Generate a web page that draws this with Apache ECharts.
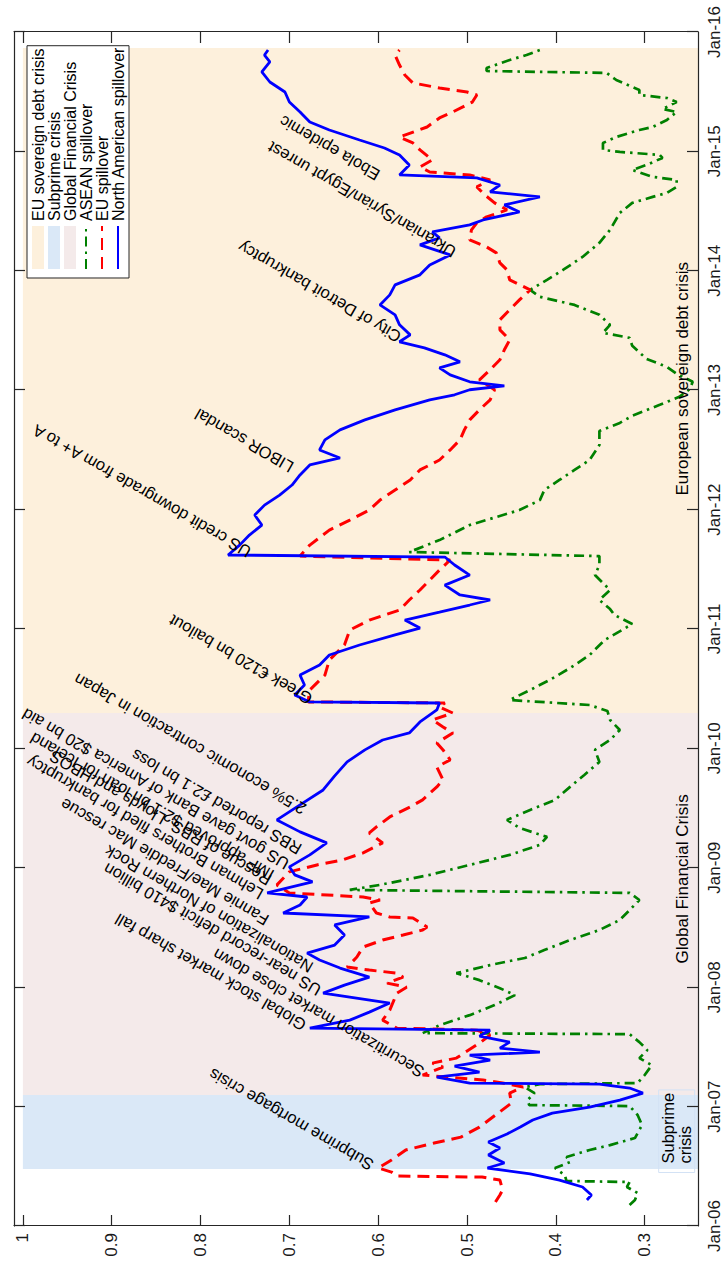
<!DOCTYPE html>
<html>
<head>
<meta charset="utf-8">
<script src="https://cdn.jsdelivr.net/npm/echarts@6/dist/echarts.min.js"></script>
<style>
  html, body { margin: 0; padding: 0; background: #fff; overflow: hidden; }
  /* the figure is drawn landscape and turned a quarter to the left */
  #chart {
    position: absolute; left: 0; top: 0;
    width: 1263px; height: 723px;
    transform-origin: 0 0;
    transform: translateY(1263px) rotate(-90deg);
  }
</style>
</head>
<body>
<div id="chart"></div>
<script>
// ---- data (time in decimal years) ----
var naTime = [2006.218,2006.260,2006.327,2006.385,2006.436,2006.486,2006.528,2006.595,2006.653,2006.704,2006.771,2006.829,2006.888,2006.946,2006.997,2007.055,2007.114,2007.156,2007.189,2007.198,2007.248,2007.290,2007.340,2007.390,2007.432,2007.457,2007.491,2007.541,2007.591,2007.641,2007.658,2007.725,2007.792,2007.868,2007.918,2007.951,2008.018,2008.085,2008.161,2008.228,2008.286,2008.353,2008.437,2008.521,2008.588,2008.621,2008.688,2008.755,2008.789,2008.881,2008.940,2009.007,2009.107,2009.208,2009.300,2009.400,2009.526,2009.651,2009.769,2009.886,2009.987,2010.070,2010.129,2010.221,2010.322,2010.380,2010.389,2010.447,2010.531,2010.614,2010.698,2010.782,2010.866,2010.950,2011.008,2011.075,2011.142,2011.201,2011.243,2011.285,2011.368,2011.452,2011.536,2011.603,2011.620,2011.703,2011.787,2011.871,2011.955,2012.038,2012.122,2012.206,2012.290,2012.374,2012.432,2012.499,2012.583,2012.667,2012.750,2012.834,2012.918,2012.960,2013.002,2013.035,2013.069,2013.127,2013.186,2013.236,2013.295,2013.353,2013.404,2013.462,2013.546,2013.630,2013.713,2013.797,2013.881,2013.965,2014.048,2014.132,2014.216,2014.275,2014.325,2014.384,2014.425,2014.492,2014.551,2014.618,2014.660,2014.718,2014.777,2014.802,2014.886,2014.970,2015.028,2015.095,2015.179,2015.246,2015.330,2015.413,2015.497,2015.581,2015.665,2015.749,2015.807,2015.849];
var naValues = [0.365,0.360,0.370,0.396,0.429,0.477,0.458,0.476,0.463,0.476,0.455,0.440,0.426,0.404,0.362,0.328,0.302,0.317,0.351,0.497,0.534,0.486,0.514,0.474,0.497,0.418,0.463,0.452,0.486,0.474,0.677,0.632,0.610,0.587,0.632,0.662,0.638,0.610,0.643,0.666,0.680,0.649,0.638,0.649,0.610,0.707,0.688,0.680,0.725,0.674,0.694,0.700,0.677,0.658,0.688,0.714,0.688,0.662,0.649,0.635,0.615,0.595,0.565,0.553,0.534,0.531,0.677,0.694,0.683,0.688,0.666,0.655,0.621,0.581,0.553,0.570,0.531,0.497,0.474,0.508,0.525,0.497,0.514,0.525,0.769,0.756,0.745,0.731,0.739,0.728,0.711,0.697,0.688,0.677,0.643,0.666,0.660,0.643,0.615,0.581,0.542,0.514,0.497,0.458,0.497,0.519,0.531,0.508,0.525,0.548,0.576,0.564,0.576,0.581,0.598,0.587,0.581,0.553,0.542,0.519,0.553,0.531,0.539,0.497,0.482,0.441,0.458,0.418,0.474,0.463,0.489,0.576,0.565,0.576,0.593,0.621,0.655,0.677,0.688,0.700,0.705,0.722,0.731,0.722,0.728,0.724];

var euTime = [2006.201,2006.260,2006.302,2006.385,2006.410,2006.419,2006.452,2006.486,2006.553,2006.637,2006.695,2006.745,2006.829,2006.946,2007.030,2007.114,2007.164,2007.198,2007.223,2007.265,2007.332,2007.365,2007.407,2007.533,2007.600,2007.641,2007.658,2007.725,2007.809,2007.951,2008.001,2008.035,2008.085,2008.119,2008.144,2008.169,2008.253,2008.337,2008.395,2008.437,2008.479,2008.504,2008.580,2008.588,2008.621,2008.705,2008.730,2008.755,2008.789,2008.856,2008.965,2009.023,2009.065,2009.124,2009.208,2009.291,2009.342,2009.425,2009.509,2009.568,2009.677,2009.735,2009.844,2009.903,2009.987,2010.045,2010.129,2010.179,2010.238,2010.296,2010.347,2010.380,2010.389,2010.489,2010.614,2010.740,2010.866,2010.991,2011.075,2011.159,2011.243,2011.327,2011.410,2011.494,2011.578,2011.611,2011.703,2011.829,2011.913,2011.997,2012.080,2012.164,2012.248,2012.332,2012.415,2012.499,2012.583,2012.667,2012.750,2012.834,2012.918,2013.002,2013.085,2013.169,2013.253,2013.337,2013.420,2013.504,2013.588,2013.672,2013.755,2013.839,2013.923,2014.006,2014.065,2014.149,2014.199,2014.258,2014.342,2014.400,2014.451,2014.509,2014.568,2014.635,2014.702,2014.760,2014.802,2014.827,2014.869,2014.928,2015.012,2015.070,2015.120,2015.204,2015.280,2015.330,2015.413,2015.472,2015.497,2015.531,2015.573,2015.640,2015.723,2015.807,2015.849];
var euValues = [0.468,0.463,0.460,0.463,0.483,0.579,0.585,0.600,0.585,0.569,0.537,0.507,0.486,0.465,0.450,0.452,0.437,0.460,0.482,0.550,0.527,0.539,0.512,0.486,0.474,0.489,0.579,0.595,0.587,0.579,0.568,0.590,0.572,0.579,0.610,0.635,0.624,0.617,0.595,0.572,0.550,0.545,0.561,0.587,0.602,0.610,0.598,0.617,0.700,0.714,0.700,0.669,0.640,0.617,0.595,0.610,0.602,0.587,0.564,0.550,0.534,0.527,0.534,0.519,0.527,0.534,0.516,0.527,0.539,0.516,0.531,0.525,0.679,0.677,0.660,0.655,0.638,0.632,0.610,0.576,0.565,0.553,0.542,0.531,0.519,0.688,0.677,0.655,0.632,0.610,0.598,0.581,0.564,0.553,0.531,0.519,0.508,0.503,0.497,0.486,0.474,0.469,0.486,0.474,0.463,0.458,0.452,0.463,0.463,0.452,0.441,0.429,0.452,0.455,0.463,0.467,0.478,0.497,0.495,0.489,0.478,0.455,0.469,0.480,0.489,0.474,0.497,0.542,0.553,0.539,0.553,0.561,0.576,0.545,0.531,0.516,0.494,0.489,0.500,0.531,0.561,0.570,0.576,0.581,0.576];

var aseanTime = [2006.176,2006.218,2006.276,2006.327,2006.369,2006.377,2006.427,2006.486,2006.536,2006.578,2006.637,2006.678,2006.737,2006.846,2006.930,2007.005,2007.013,2007.055,2007.114,2007.164,2007.189,2007.198,2007.265,2007.348,2007.407,2007.474,2007.541,2007.608,2007.616,2007.683,2007.767,2007.851,2007.935,2007.993,2008.060,2008.119,2008.186,2008.245,2008.312,2008.395,2008.479,2008.563,2008.646,2008.730,2008.789,2008.814,2008.856,2008.940,2009.023,2009.107,2009.191,2009.258,2009.333,2009.400,2009.484,2009.568,2009.677,2009.777,2009.886,2009.987,2010.070,2010.154,2010.238,2010.313,2010.363,2010.405,2010.489,2010.573,2010.673,2010.782,2010.908,2011.042,2011.117,2011.167,2011.243,2011.327,2011.452,2011.536,2011.611,2011.645,2011.745,2011.871,2011.997,2012.080,2012.164,2012.248,2012.332,2012.415,2012.541,2012.658,2012.725,2012.784,2012.876,2012.943,2013.010,2013.069,2013.136,2013.194,2013.261,2013.370,2013.437,2013.479,2013.546,2013.630,2013.713,2013.781,2013.839,2013.923,2014.006,2014.115,2014.233,2014.342,2014.484,2014.568,2014.618,2014.652,2014.702,2014.760,2014.786,2014.844,2014.886,2014.945,2014.970,2014.995,2015.012,2015.070,2015.120,2015.179,2015.204,2015.263,2015.330,2015.355,2015.413,2015.447,2015.472,2015.514,2015.539,2015.598,2015.657,2015.673,2015.698,2015.765,2015.807,2015.849];
var aseanValues = [0.317,0.311,0.308,0.320,0.317,0.388,0.390,0.401,0.384,0.388,0.362,0.339,0.311,0.303,0.308,0.317,0.430,0.432,0.424,0.435,0.418,0.308,0.300,0.292,0.306,0.297,0.306,0.317,0.550,0.531,0.497,0.469,0.446,0.463,0.486,0.512,0.474,0.435,0.413,0.384,0.351,0.328,0.317,0.306,0.317,0.632,0.598,0.542,0.497,0.452,0.418,0.410,0.441,0.455,0.429,0.401,0.384,0.368,0.351,0.356,0.339,0.328,0.339,0.342,0.362,0.452,0.429,0.407,0.384,0.362,0.345,0.314,0.334,0.339,0.351,0.339,0.356,0.351,0.351,0.565,0.531,0.497,0.441,0.418,0.413,0.396,0.379,0.362,0.351,0.351,0.328,0.314,0.283,0.261,0.249,0.246,0.264,0.275,0.298,0.314,0.317,0.347,0.339,0.351,0.379,0.418,0.429,0.410,0.392,0.370,0.351,0.339,0.328,0.314,0.291,0.275,0.264,0.264,0.291,0.314,0.298,0.280,0.283,0.328,0.347,0.347,0.332,0.306,0.291,0.275,0.264,0.280,0.264,0.275,0.306,0.306,0.314,0.332,0.343,0.478,0.478,0.452,0.433,0.418];

// crisis periods
var periodNames = ['EU sovereign debt crisis', 'Subprime crisis', 'Global Financial Crisis'];
var periodStart = [2010.296, 2006.477, 2007.097];
var periodEnd = [2015.866, 2007.097, 2010.296];
var periodColors = ['#fdf0dc', '#dae8f7', '#f4eaea'];
var shadeTop = 1, shadeBottom = 0.24;

// event annotations
var eventLabels = ['Subprime mortgage crisis', 'Securitization market close down', 'Global stock market sharp fall',
  'US near-record deficit $410 billion', 'Nationalization of Northern Rock', 'Fannie Mae/Freddie Mac rescue',
  'Lehman Brothers filed for bankruptcy', 'Rescue of RBS, Lloyds and HBOS', 'IMF approved $2.1 bn loan for Iceland',
  'US govt gave Bank of America $20 bn aid', 'RBS reported £2.1 bn loss', '2.5% economic contraction in Japan',
  'Greek €120 bn bailout', 'US credit downgrade from A+ to A', 'LIBOR scandal', 'City of Detroit bankruptcy',
  'Ukranian/Syrian/Egypt unrest', 'Ebola epidemic'];
var eventTime = [2006.486, 2007.265, 2007.658, 2007.951, 2008.144, 2008.538, 2008.755, 2008.873, 2008.915,
  2009.007, 2009.132, 2009.467, 2010.389, 2011.620, 2012.332, 2013.420, 2014.132, 2014.777];
var eventValues = [0.607, 0.550, 0.683, 0.666, 0.675, 0.725, 0.731, 0.722, 0.719, 0.702, 0.688, 0.683,
  0.676, 0.745, 0.697, 0.576, 0.514, 0.600];

// region captions
var captionLabels = ['European sovereign debt crisis', 'Global Financial Crisis'];
var captionTime = [2013.094, 2008.906];
var captionValues = [0.258, 0.258];

// axes
var yearTicks = [2006, 2007, 2008, 2009, 2010, 2011, 2012, 2013, 2014, 2015, 2016];
var valueTicks = [0.3, 0.4, 0.5, 0.6, 0.7, 0.8, 0.9, 1];
var valueMin = 0.24, valueMax = 1.01;

var FONT = "'Liberation Sans', Arial, Helvetica, sans-serif";
var INK = '#000';
var FRAME = '#262626';

var chart = echarts.init(document.getElementById('chart'), null, { renderer: 'svg' });

var months = ['Jan','Feb','Mar','Apr','May','Jun','Jul','Aug','Sep','Oct','Nov','Dec'];

// decimal year -> timestamp
function ts(t) {
  var y = Math.floor(t);
  var a = new Date(y, 0, 1).getTime();
  var b = new Date(y + 1, 0, 1).getTime();
  return a + (t - y) * (b - a);
}
function zip(t, v) {
  return t.map(function (x, i) { return [ts(x), v[i]]; });
}
var yearStamps = yearTicks.map(ts);

function timeAxis(pos, labels) {
  return {
    type: 'value',
    position: pos,
    min: yearStamps[0],
    max: yearStamps[yearStamps.length - 1],
    z: 10,
    axisLine: { show: true, onZero: false, lineStyle: { color: FRAME, width: 1.2 } },
    axisTick: { show: true, inside: true, length: 11, customValues: yearStamps, lineStyle: { color: FRAME, width: 1.2 } },
    axisLabel: {
      show: labels, customValues: yearStamps, margin: 8,
      fontSize: 17, fontFamily: FONT, color: '#1a1a1a',
      formatter: function (v) {
        var d = new Date(v);
        return months[d.getMonth()] + '-' + String(d.getFullYear()).slice(2);
      }
    },
    splitLine: { show: false }
  };
}

function valueAxis(pos, labels) {
  return {
    type: 'value',
    position: pos,
    min: valueMin,
    max: valueMax,
    z: 10,
    axisLine: { show: true, onZero: false, lineStyle: { color: FRAME, width: 1.2 } },
    axisTick: { show: true, inside: true, length: 11, customValues: valueTicks, lineStyle: { color: FRAME, width: 1.2 } },
    axisLabel: {
      show: labels, customValues: valueTicks, margin: 7,
      fontSize: 17, fontFamily: FONT, color: '#1a1a1a',
      formatter: function (v) { return String(+v.toFixed(1)); }
    },
    splitLine: { show: false }
  };
}

var series = [];

// shaded periods (empty line series so they show in the legend)
periodNames.forEach(function (name, i) {
  series.push({
    name: name,
    type: 'line',
    data: [],
    color: periodColors[i],
    z: 1,
    markArea: {
      silent: true,
      itemStyle: { color: periodColors[i] },
      data: [[{ xAxis: ts(periodStart[i]), yAxis: shadeTop }, { xAxis: ts(periodEnd[i]), yAxis: shadeBottom }]]
    }
  });
});

series.push({
  name: 'ASEAN spillover',
  type: 'line',
  data: zip(aseanTime, aseanValues),
  showSymbol: false, symbol: 'none',
  color: '#008000',
  lineStyle: { width: 2.7, type: [10, 5, 2.5, 5] },
  z: 3
});
series.push({
  name: 'EU spillover',
  type: 'line',
  data: zip(euTime, euValues),
  showSymbol: false, symbol: 'none',
  color: '#ff0000',
  lineStyle: { width: 3, type: [12, 7] },
  z: 4
});
series.push({
  name: 'North American spillover',
  type: 'line',
  data: zip(naTime, naValues),
  showSymbol: false, symbol: 'none',
  color: '#0000ff',
  lineStyle: { width: 2.8 },
  z: 5
});

// invisible anchor points carrying text; scatter fades items to 0.8 by default, so keep opacity 1
var hidden = { color: 'rgba(0,0,0,0)', opacity: 1 };

// event annotations, written at 60 degrees from the point
series.push({
  type: 'scatter',
  data: eventTime.map(function (t, i) { return { name: eventLabels[i], value: [ts(t), eventValues[i]] }; }),
  symbolSize: 1,
  itemStyle: hidden,
  silent: true,
  z: 6,
  label: {
    show: true,
    formatter: '{b}',
    position: 'right',
    distance: 1,
    rotate: 60,
    align: 'left',
    verticalAlign: 'middle',
    fontSize: 16.5,
    fontFamily: FONT,
    color: INK,
    opacity: 1
  }
});

// period captions
series.push({
  type: 'scatter',
  data: captionTime.map(function (t, i) { return { name: captionLabels[i], value: [ts(t), captionValues[i]] }; }),
  symbolSize: 1,
  itemStyle: hidden,
  silent: true,
  z: 6,
  label: {
    show: true, formatter: '{b}', position: 'inside',
    align: 'center', verticalAlign: 'middle',
    fontSize: 17, fontFamily: FONT, color: INK, opacity: 1,
    textBorderWidth: 0
  }
});
series.push({
  type: 'scatter',
  data: [{ name: 'Subprime\ncrisis', value: [ts(2006.444), 0.264] }],
  symbolSize: 1,
  itemStyle: hidden,
  silent: true,
  z: 6,
  label: {
    show: true, formatter: '{b}', position: 'right', distance: 0,
    align: 'left', verticalAlign: 'middle',
    fontSize: 16.5, lineHeight: 17, fontFamily: FONT, color: INK, opacity: 1,
    padding: [1, 3, 1, 9],
    borderColor: '#d3e2f5', borderWidth: 1
  }
});

var noMarker = { color: 'rgba(0,0,0,0)', borderWidth: 0 };

chart.setOption({
  animation: false,
  backgroundColor: '#fff',
  grid: { left: 37, right: 32, top: 14, bottom: 25, containLabel: false },
  xAxis: [timeAxis('bottom', true), timeAxis('top', false)],
  yAxis: [valueAxis('left', true), valueAxis('right', false)],
  legend: {
    orient: 'vertical',
    left: 985, top: 27,
    padding: [3, 1, 3, 8],
    itemGap: 0, itemWidth: 43, itemHeight: 12,
    backgroundColor: '#fff', borderColor: FRAME, borderWidth: 1,
    selectedMode: false,
    textStyle: { fontSize: 16, lineHeight: 15, fontFamily: FONT, color: INK },
    data: [
      { name: 'EU sovereign debt crisis', icon: 'rect' },
      { name: 'Subprime crisis', icon: 'rect' },
      { name: 'Global Financial Crisis', icon: 'rect' },
      { name: 'ASEAN spillover', itemStyle: noMarker },
      { name: 'EU spillover', itemStyle: noMarker },
      { name: 'North American spillover', itemStyle: noMarker }
    ]
  },
  series: series
});
</script>
</body>
</html>
